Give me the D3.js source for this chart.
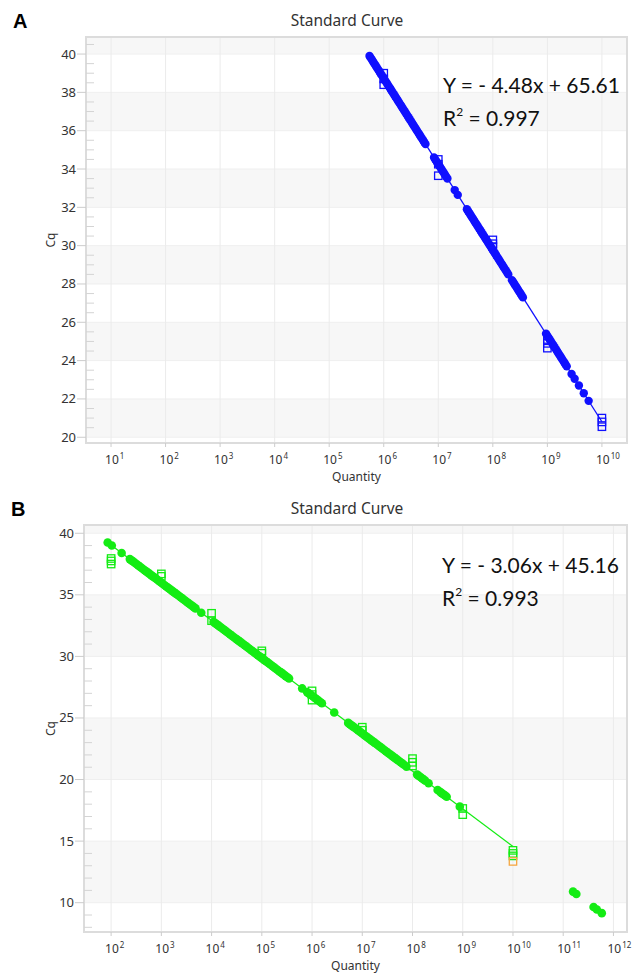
<!DOCTYPE html>
<html>
<head>
<meta charset="utf-8">
<script src="https://cdn.jsdelivr.net/npm/d3@7"></script>
<style>
body { margin: 0; background: #fff; }
text { font-family: "Noto Sans", sans-serif; }
</style>
</head>
<body>
<svg id="fig" width="635" height="973"></svg>
<script>
// ---- panel A data ----
const aStdLevels = [6, 7, 8, 9, 10]   // log10 quantity of standards
const aStdCq = [[39.0, 38.7, 38.4], [34.5, 34.25, 33.65], [30.3, 30.1, 29.95], [25.1, 24.9, 24.65], [21.0, 20.8, 20.55]]
const aUnkCq = [39.9, 39.8, 39.7, 39.6, 39.5, 39.4, 39.3, 39.2, 39.1, 39.0, 38.9, 38.8, 38.7, 38.6, 38.5, 38.4,
  38.3, 38.2, 38.1, 38.0, 37.9, 37.8, 37.7, 37.6, 37.5, 37.4, 37.3, 37.2, 37.1, 37.0, 36.9, 36.8, 36.7, 36.6,
  36.5, 36.4, 36.3, 36.2, 36.1, 36.0, 35.9, 35.8, 35.7, 35.6, 35.5, 35.4, 35.3,
  34.6, 34.5, 34.4, 34.3, 34.2, 34.1, 34.0, 33.9, 33.8, 33.7, 33.6, 33.5,
  32.9, 32.65,
  31.9, 31.8, 31.7, 31.6, 31.5, 31.4, 31.3, 31.2, 31.1, 31.0, 30.9, 30.8, 30.7, 30.6, 30.5, 30.4, 30.3, 30.2,
  30.1, 30.0, 29.9, 29.8, 29.7, 29.6, 29.5, 29.4, 29.3, 29.2, 29.1, 29.0, 28.9, 28.8, 28.7, 28.6, 28.5,
  28.2, 28.1, 28.0, 27.9, 27.8, 27.7, 27.6, 27.5, 27.4, 27.3,
  25.4, 25.3, 25.2, 25.1, 25.0, 24.9, 24.8, 24.7, 24.6, 24.5, 24.4, 24.3, 24.2, 24.1, 24.0, 23.9, 23.8, 23.7,
  23.3, 23.05, 22.7, 22.3, 21.9]
const aFit = [-4.48, 65.61]   // slope, intercept
const aEq = ["Y = - 4.48x + 65.61", "0.997"]

// ---- panel B data ----
const bStdLevels = [2, 3, 4, 5, 6, 7, 8, 9, 10]
const bStdCq = [[37.95, 37.75, 37.5], [36.7, 36.5], [33.5, 32.9], [30.45, 30.25], [27.2, 26.9, 26.45],
  [24.25, 24.0], [21.7, 21.4, 21.1], [17.65, 17.15], [14.25, 14.0, 13.8]]
const bStdOut = [[10, 13.35]]   // orange standard
const bUnkCq = [39.25, 39.0, 38.4,
  37.9, 37.8, 37.7, 37.6, 37.5, 37.4, 37.3, 37.2, 37.1, 37.0, 36.9, 36.8, 36.7, 36.6, 36.5, 36.4, 36.3, 36.2,
  36.1, 36.0, 35.9, 35.8, 35.7, 35.6, 35.5, 35.4, 35.3, 35.2, 35.1, 35.0, 34.9, 34.8, 34.7, 34.6, 34.5, 34.4,
  34.3, 34.2, 34.1, 34.0, 33.9, 33.55,
  32.8, 32.7, 32.6, 32.5, 32.4, 32.3, 32.2, 32.1, 32.0, 31.9, 31.8, 31.7, 31.6, 31.5, 31.4, 31.3, 31.2, 31.1,
  31.0, 30.9, 30.8, 30.7, 30.6, 30.5, 30.4, 30.3, 30.2, 30.1, 30.0, 29.9, 29.8, 29.7, 29.6, 29.5, 29.4, 29.3,
  29.2, 29.1, 29.0, 28.9, 28.8, 28.7, 28.6, 28.5, 28.4, 28.3, 28.2,
  27.4, 27.1, 27.0, 26.9, 26.8, 26.7, 26.6, 26.5, 26.4, 26.3, 26.2, 25.45,
  24.6, 24.5, 24.4, 24.3, 24.2, 24.1, 24.0, 23.9, 23.8, 23.7, 23.6, 23.5, 23.4, 23.3, 23.2, 23.1, 23.0, 22.9,
  22.8, 22.7, 22.6, 22.5, 22.4, 22.3, 22.2, 22.1, 22.0, 21.9, 21.8, 21.7, 21.6, 21.5, 21.4, 21.3, 21.2, 21.05,
  20.4, 20.3, 20.2, 20.1, 20.0, 19.9, 19.7,
  19.15, 19.0, 18.9, 18.8, 18.7, 18.6,
  17.8,
  10.9, 10.7, 9.65, 9.45, 9.15]
const bFit = [-3.06, 45.16]
const bEq = ["Y = - 3.06x + 45.16", "0.993"]

const svg = d3.select("#fig")

function panel(o) {
  let g = svg.append("g")
  let x = d3.scaleLog().domain(o.xDom).range([o.left, o.right])
  let y = d3.scaleLinear().domain(o.yDom).range([o.bottom, o.top])
  let major = d3.range(o.yMin, o.yMax + 0.01, o.step)
  let minor = d3.range(Math.ceil(o.yDom[0] / o.minor) * o.minor, o.yDom[1], o.minor)
    .filter(v => Math.abs(v / o.step - Math.round(v / o.step)) > 0.01)
  let decades = d3.range(o.xMin, o.xMax + 1)

  // grey bands, starting grey above the top tick
  major.forEach(t => {
    if (Math.round((o.yMax - t) / o.step) % 2 == 0) {
      let hi = Math.min(t + o.step, o.yDom[1])
      g.append("rect")
        .attr("x", o.left).attr("width", o.right - o.left)
        .attr("y", y(hi)).attr("height", y(t) - y(hi))
        .style("fill", "#f7f7f7")
    }
  })
  g.selectAll(".hg").data(major).enter().append("line")
    .attr("x1", o.left).attr("x2", o.right)
    .attr("y1", d => y(d)).attr("y2", d => y(d))
    .style("stroke", "#efefef")
  g.selectAll(".vg").data(decades).enter().append("line")
    .attr("x1", d => x(Math.pow(10, d))).attr("x2", d => x(Math.pow(10, d)))
    .attr("y1", o.top).attr("y2", o.bottom)
    .style("stroke", "#ebebeb")

  // frame
  g.append("rect")
    .attr("x", o.left).attr("y", o.top)
    .attr("width", o.right - o.left).attr("height", o.bottom - o.top)
    .style("fill", "none").style("stroke", "#dcdcdc").style("stroke-width", 2)

  // ticks
  g.selectAll(".mt").data(major).enter().append("line")
    .attr("x1", o.left - 9).attr("x2", o.left)
    .attr("y1", d => y(d)).attr("y2", d => y(d))
    .style("stroke", "#cccccc")
  g.selectAll(".nt").data(minor).enter().append("line")
    .attr("x1", o.left).attr("x2", o.left + 8)
    .attr("y1", d => y(d)).attr("y2", d => y(d))
    .style("stroke", "#d4d4d4")
  g.selectAll(".yl").data(major).enter().append("text")
    .attr("x", o.left - 10).attr("y", d => y(d) + 4.5)
    .attr("text-anchor", "end")
    .style("font-size", "13px").style("fill", "#333")
    .text(d => d)
  g.selectAll(".xt").data(decades).enter().append("line")
    .attr("x1", d => x(Math.pow(10, d))).attr("x2", d => x(Math.pow(10, d)))
    .attr("y1", o.bottom).attr("y2", o.bottom + 4)
    .style("stroke", "#cccccc")
  let xl = g.selectAll(".xl").data(decades).enter().append("text")
    .attr("x", d => x(Math.pow(10, d)) - 6).attr("y", o.bottom + 21)
    .style("font-size", "12px").style("fill", "#333")
  xl.append("tspan").text("10")
  xl.append("tspan").attr("dy", -5).attr("dx", 1).style("font-size", "8px").text(d => d)

  // axis titles
  g.append("text")
    .attr("x", (o.left + o.right) / 2).attr("y", o.bottom + 38)
    .attr("text-anchor", "middle")
    .style("font-size", "12px").style("fill", "#333")
    .text("Quantity")
  g.append("text")
    .attr("transform", `translate(55,${(o.top + o.bottom) / 2}) rotate(-90)`)
    .attr("text-anchor", "middle")
    .style("font-size", "12px").style("fill", "#333")
    .text("Cq")
  g.append("text")
    .attr("x", 347).attr("y", o.top - 11)
    .attr("text-anchor", "middle")
    .style("font-size", "15.5px").style("fill", "#333")
    .text("Standard Curve")
  g.append("text")
    .attr("x", o.letterX).attr("y", o.top - 9)
    .style("font-family", "'Liberation Sans', Arial, sans-serif")
    .style("font-size", "20px").style("font-weight", "bold").style("fill", "#000")
    .text(o.letter)

  // fitted line over the span of the data
  let qOf = cq => (cq - o.fit[1]) / o.fit[0]
  let lineX = [qOf(d3.max(o.unk)), d3.max(o.stdLevels)]
  g.append("line")
    .attr("x1", x(Math.pow(10, lineX[0]))).attr("x2", x(Math.pow(10, lineX[1])))
    .attr("y1", y(o.fit[0] * lineX[0] + o.fit[1])).attr("y2", y(o.fit[0] * lineX[1] + o.fit[1]))
    .style("stroke", o.color).style("stroke-width", 1.3)

  // unknowns
  g.selectAll(".unk").data(o.unk).enter().append("circle")
    .attr("cx", d => x(Math.pow(10, qOf(d))))
    .attr("cy", d => y(d))
    .attr("r", o.r)
    .style("fill", o.color)

  // standards
  let std = []
  o.stdLevels.forEach((lv, i) => o.stdCq[i].forEach(c => std.push([lv, c, o.color])))
  o.stdOut.forEach(d => std.push([d[0], d[1], "#f5a742"]))
  g.selectAll(".std").data(std).enter().append("rect")
    .attr("x", d => x(Math.pow(10, d[0])) - 3.7)
    .attr("y", d => y(d[1]) - 3.7)
    .attr("width", 7.4).attr("height", 7.4)
    .style("fill", "none").style("stroke", d => d[2]).style("stroke-width", 1.3)

  // equation
  let eq = g.append("text").attr("x", o.eqX).attr("y", o.eqY)
    .style("font-family", "Lato, sans-serif").style("font-size", "21px").style("fill", "#111")
  eq.text(o.eq[0])
  let r2 = g.append("text").attr("x", o.eqX).attr("y", o.eqY + 33)
    .style("font-family", "Lato, sans-serif").style("font-size", "21px").style("fill", "#111")
  r2.append("tspan").text("R")
  r2.append("tspan").attr("dy", -10).style("font-size", "12px").text("2")
  r2.append("tspan").attr("dy", 10).text(" = " + o.eq[1])
}

panel({
  left: 86, right: 627, top: 37, bottom: 443,
  xDom: [Math.pow(10, 0.541), Math.pow(10, 10.46)], yDom: [19.7, 40.89],
  xMin: 1, xMax: 10, yMin: 20, yMax: 40, step: 2, minor: 0.5,
  stdLevels: aStdLevels, stdCq: aStdCq, stdOut: [], unk: aUnkCq, fit: aFit, eq: aEq,
  color: "#1010ff", r: 4.2, letter: "A", letterX: 13, eqX: 443, eqY: 93
})
panel({
  left: 84, right: 627, top: 525, bottom: 932,
  xDom: [Math.pow(10, 1.46), Math.pow(10, 12.27)], yDom: [7.62, 40.67],
  xMin: 2, xMax: 12, yMin: 10, yMax: 40, step: 5, minor: 1,
  stdLevels: bStdLevels, stdCq: bStdCq, stdOut: bStdOut, unk: bUnkCq, fit: bFit, eq: bEq,
  color: "#14ec14", r: 4.3, letter: "B", letterX: 11, eqX: 442, eqY: 573
})
</script>
</body>
</html>
